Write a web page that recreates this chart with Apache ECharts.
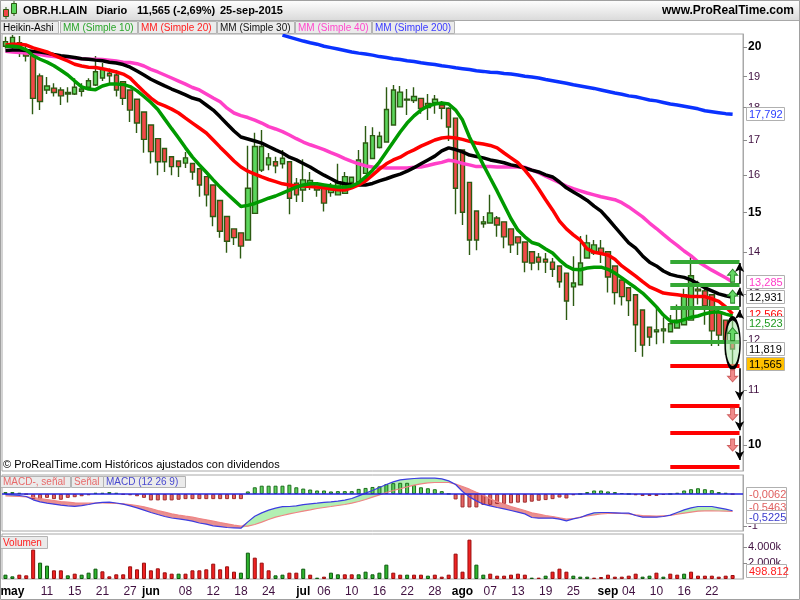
<!DOCTYPE html>
<html>
<head>
<meta charset="utf-8">
<title>OBR.H.LAIN Diario</title>
<script src="https://cdn.jsdelivr.net/npm/echarts@6/dist/echarts.min.js"></script>
<style>
  html, body { margin: 0; padding: 0; background: #fff; }
  #container { width: 800px; height: 600px; }
</style>
</head>
<body>
<div id="container"></div>
<script>
// sesiones 30-abr-2015 .. 25-sep-2015
var dates = ['30/04','04/05','05/05','06/05','07/05','08/05','11/05','12/05','13/05','14/05','15/05','18/05','19/05','20/05','21/05','22/05','25/05','26/05','27/05','28/05','29/05',
  '01/06','02/06','03/06','04/06','05/06','08/06','09/06','10/06','11/06','12/06','15/06','16/06','17/06','18/06','19/06','22/06','23/06','24/06','25/06','26/06','29/06','30/06',
  '01/07','02/07','03/07','06/07','07/07','08/07','09/07','10/07','13/07','14/07','15/07','16/07','17/07','20/07','21/07','22/07','23/07','24/07','27/07','28/07','29/07','30/07','31/07',
  '03/08','04/08','05/08','06/08','07/08','10/08','11/08','12/08','13/08','14/08','17/08','18/08','19/08','20/08','21/08','24/08','25/08','26/08','27/08','28/08','31/08',
  '01/09','02/09','03/09','04/09','07/09','08/09','09/09','10/09','11/09','14/09','15/09','16/09','17/09','18/09','21/09','22/09','23/09','24/09','25/09'];

var tickDates = ['04/05','11/05','15/05','21/05','27/05','01/06','08/06','12/06','18/06','24/06','01/07','06/07','10/07','16/07','22/07','28/07','03/08','07/08','13/08','19/08','25/08','01/09','04/09','10/09','16/09','22/09'];
var tickTexts = ['may','11','15','21','27','jun','08','12','18','24','jul','06','10','16','22','28','ago','07','13','19','25','sep','04','10','16','22'];
var priceTicks = [10, 11, 12, 13, 14, 15, 16, 17, 18, 19, 20];
var macdTicks = [-1];
var volumeTicks = [2000000, 4000000];

// Heikin-Ashi
var haOpen = [20.03,20.13,20.03,19.90,19.72,19.02,18.56,18.62,18.56,18.48,
  18.43,18.52,18.65,18.72,18.95,19.11,19.05,18.83,18.56,18.26,
  17.86,17.46,17.05,16.76,16.52,16.40,16.34,16.33,16.18,15.96,
  15.73,15.31,14.89,14.57,14.47,14.29,14.97,16.14,16.29,16.38,
  16.32,16.38,15.78,15.59,15.70,15.76,15.68,15.52,15.46,15.50,
  15.80,15.82,16.05,16.47,16.79,16.95,17.46,18.02,18.24,18.22,
  18.29,18.13,18.15,18.08,17.98,17.67,16.72,15.80,15.03,14.70,
  14.72,14.85,14.75,14.57,14.37,14.24,14.00,13.87,13.82,13.75,
  13.66,13.49,13.17,13.22,13.85,13.97,14.09,14.00,13.66,13.33,
  13.15,12.99,12.65,12.28,12.18,12.20,12.18,12.26,12.33,12.43,
  13.12,13.08,12.99,12.61,12.43,12.15];
var haClose = [20.19,20.34,20.15,19.69,18.29,18.19,18.69,18.48,18.37,18.43,
  18.65,18.59,18.86,19.16,19.25,19.02,18.56,18.29,17.92,17.52,
  17.03,16.67,16.38,16.38,16.24,16.24,16.49,16.09,15.73,15.46,
  14.89,14.51,14.26,14.35,14.14,15.64,16.82,16.82,16.49,16.26,
  16.48,15.37,15.46,15.87,15.85,15.59,15.24,15.64,15.82,15.96,
  15.94,16.43,16.92,17.14,17.12,17.94,18.56,18.49,18.26,18.35,
  17.97,18.00,18.26,17.98,17.40,15.64,15.00,14.29,14.29,14.75,
  14.98,14.67,14.37,14.17,14.22,13.75,13.73,13.75,13.75,13.58,
  13.29,12.85,13.26,13.73,14.22,14.17,13.97,13.40,13.04,12.95,
  12.86,12.33,11.90,12.07,12.22,12.24,12.35,12.43,12.99,13.43,
  13.08,12.74,12.20,12.11,11.97,11.819];
var haLow = [19.95,19.95,19.66,19.50,17.79,17.92,18.43,18.35,18.08,18.16,
  18.40,18.35,18.62,18.69,18.85,18.78,18.35,18.08,17.55,17.22,
  16.64,16.33,16.00,16.09,16.00,15.95,16.20,15.87,15.41,15.15,
  14.64,14.35,13.98,14.17,13.84,14.27,14.97,16.09,16.14,16.05,
  16.19,14.95,15.27,15.27,15.59,15.41,15.02,15.41,15.46,15.50,
  15.76,15.82,16.05,16.45,16.76,16.95,17.46,18.02,17.77,18.14,
  17.81,17.61,17.81,17.64,16.98,14.95,14.67,13.92,14.04,14.60,
  14.72,14.37,14.09,13.97,13.92,13.51,13.56,13.56,13.49,13.40,
  13.15,12.43,12.74,13.22,13.85,13.92,13.73,13.04,12.77,12.75,
  12.52,11.76,11.66,11.88,11.92,11.94,12.18,12.26,12.33,12.43,
  12.77,12.33,11.88,11.88,11.70,11.40];
var haHigh = [20.36,20.42,20.39,20.07,19.90,19.10,18.98,18.78,18.65,18.65,
  18.94,18.78,18.94,19.69,19.45,19.27,19.21,18.83,18.56,18.26,
  17.86,17.46,17.05,16.76,16.52,16.40,16.66,16.33,16.18,15.96,
  15.73,15.31,14.89,14.57,14.47,16.84,17.23,17.31,16.63,16.52,
  16.72,16.38,15.92,16.45,16.09,15.78,15.68,15.78,16.32,16.09,
  15.94,16.72,17.43,17.39,17.26,18.65,18.72,18.69,18.59,18.65,
  18.29,18.43,18.40,18.21,18.01,17.67,16.72,15.80,15.03,14.90,
  15.46,14.90,14.75,14.57,14.37,14.24,14.00,13.97,13.97,13.85,
  13.66,13.49,13.89,14.39,14.42,14.29,14.29,14.00,13.66,13.33,
  13.15,12.99,12.65,12.28,12.74,12.49,12.54,12.77,13.13,13.87,
  13.31,13.17,12.99,12.61,12.43,12.41];
var lastClose = 11.565;

// medias moviles simples
var mm10 = [20.03,20.03,20.00,19.90,19.70,19.58,19.48,19.36,19.21,19.05,
  18.85,18.66,18.59,18.57,18.69,18.75,18.75,18.74,18.67,18.53,
  18.35,18.16,17.94,17.64,17.35,17.07,16.78,16.51,16.29,16.08,
  15.87,15.67,15.49,15.32,15.15,15.18,15.23,15.30,15.37,15.43,
  15.51,15.59,15.67,15.73,15.76,15.76,15.73,15.70,15.67,15.67,
  15.70,15.79,15.95,16.14,16.37,16.66,16.95,17.25,17.52,17.74,
  17.92,18.05,18.11,18.14,18.11,17.92,17.61,17.10,16.69,16.29,
  15.92,15.56,15.19,14.83,14.54,14.37,14.23,14.18,14.07,13.97,
  13.80,13.66,13.58,13.57,13.61,13.63,13.63,13.58,13.49,13.38,
  13.26,13.15,13.03,12.88,12.72,12.54,12.41,12.39,12.44,12.49,
  12.52,12.57,12.60,12.61,12.56,12.523];
var mm20 = [20.07,20.10,20.10,20.07,19.97,19.90,19.83,19.72,19.62,19.52,
  19.41,19.35,19.31,19.30,19.26,19.21,19.15,19.08,18.95,18.72,
  18.50,18.30,18.14,18.05,17.95,17.83,17.67,17.52,17.37,17.22,
  17.01,16.80,16.60,16.40,16.23,16.11,16.03,15.95,15.88,15.82,
  15.76,15.73,15.70,15.70,15.69,15.67,15.65,15.62,15.60,15.59,
  15.65,15.73,15.84,16.00,16.17,16.32,16.43,16.51,16.63,16.72,
  16.83,16.92,17.01,17.07,17.09,17.07,17.03,16.97,16.92,16.89,
  16.85,16.78,16.63,16.49,16.35,16.14,15.90,15.62,15.33,15.06,
  14.77,14.57,14.42,14.29,14.07,13.99,13.96,13.92,13.82,13.66,
  13.54,13.42,13.29,13.17,13.10,13.03,13.01,12.99,12.97,12.95,
  12.95,12.95,12.90,12.84,12.72,12.566];
var mm30 = [19.88,19.90,19.90,19.88,19.85,19.83,19.79,19.74,19.70,19.67,
  19.64,19.60,19.58,19.55,19.53,19.48,19.45,19.40,19.31,19.18,
  19.05,18.91,18.80,18.69,18.59,18.50,18.40,18.30,18.24,18.08,
  17.92,17.71,17.49,17.28,17.10,17.04,16.98,16.92,16.82,16.72,
  16.63,16.51,16.43,16.33,16.23,16.11,16.00,15.90,15.80,15.76,
  15.73,15.73,15.73,15.77,15.84,15.90,15.97,16.03,16.11,16.21,
  16.32,16.43,16.54,16.69,16.78,16.73,16.66,16.57,16.53,16.49,
  16.43,16.39,16.35,16.29,16.25,16.20,16.14,16.09,16.01,15.95,
  15.81,15.65,15.54,15.43,15.31,15.16,15.03,14.83,14.62,14.42,
  14.22,14.09,13.90,13.75,13.66,13.54,13.46,13.42,13.39,13.33,
  13.24,13.15,13.08,13.01,12.97,12.931];
var mm40 = [19.85,19.83,19.81,19.79,19.77,19.74,19.70,19.67,19.65,19.64,
  19.62,19.60,19.58,19.58,19.57,19.55,19.52,19.48,19.47,19.43,
  19.35,19.24,19.15,19.05,18.95,18.85,18.75,18.64,18.56,18.43,
  18.30,18.18,17.98,17.83,17.75,17.69,17.61,17.52,17.41,17.34,
  17.26,17.16,17.05,16.95,16.87,16.80,16.73,16.64,16.56,16.47,
  16.39,16.32,16.26,16.23,16.22,16.20,16.20,16.20,16.20,16.22,
  16.23,16.27,16.32,16.36,16.42,16.39,16.33,16.29,16.24,16.24,
  16.24,16.23,16.23,16.23,16.23,16.22,16.14,16.07,15.97,15.88,
  15.79,15.70,15.63,15.57,15.51,15.46,15.41,15.37,15.33,15.25,
  15.14,15.01,14.88,14.72,14.58,14.43,14.29,14.16,14.02,13.90,
  13.76,13.66,13.56,13.47,13.38,13.285];
var mm200 = [null,null,null,null,null,null,null,null,null,null,
  null,null,null,null,null,null,null,null,null,null,
  null,null,null,null,null,null,null,null,null,null,
  null,null,null,null,null,null,null,null,null,null,
  20.42,20.35,20.28,20.21,20.15,20.10,20.03,19.98,19.93,19.88,
  19.83,19.79,19.76,19.72,19.67,19.64,19.60,19.57,19.53,19.50,
  19.46,19.43,19.40,19.36,19.33,19.29,19.26,19.23,19.19,19.17,
  19.14,19.13,19.10,19.08,19.05,19.01,18.98,18.95,18.90,18.86,
  18.82,18.78,18.73,18.69,18.65,18.61,18.56,18.51,18.46,18.42,
  18.37,18.34,18.29,18.24,18.21,18.16,18.11,18.08,18.04,18.00,
  17.96,17.90,17.87,17.84,17.81,17.792];

// MACD (12 26 9)
var macd = [-0.016,-0.026,-0.047,-0.078,-0.182,-0.245,-0.286,-0.318,-0.349,-0.370,
  -0.385,-0.365,-0.328,-0.286,-0.260,-0.255,-0.281,-0.318,-0.370,-0.432,
  -0.505,-0.578,-0.641,-0.703,-0.750,-0.776,-0.807,-0.849,-0.906,-0.943,
  -0.995,-1.021,-1.047,-1.057,-1.068,-0.870,-0.693,-0.589,-0.505,-0.443,
  -0.396,-0.391,-0.370,-0.333,-0.307,-0.286,-0.260,-0.245,-0.224,-0.193,
  -0.141,-0.057,0.026,0.109,0.203,0.297,0.380,0.443,0.464,0.484,
  0.495,0.495,0.495,0.474,0.411,0.297,0.078,-0.089,-0.214,-0.318,
  -0.370,-0.422,-0.464,-0.516,-0.568,-0.620,-0.734,-0.755,-0.755,-0.755,
  -0.786,-0.839,-0.776,-0.734,-0.651,-0.589,-0.578,-0.578,-0.589,-0.599,
  -0.599,-0.672,-0.724,-0.724,-0.724,-0.703,-0.661,-0.578,-0.495,-0.432,
  -0.391,-0.391,-0.391,-0.432,-0.474,-0.5225];
var signal = [-0.057,-0.068,-0.078,-0.089,-0.109,-0.141,-0.172,-0.203,-0.234,-0.255,
  -0.276,-0.286,-0.286,-0.281,-0.281,-0.286,-0.297,-0.307,-0.328,-0.359,
  -0.401,-0.453,-0.516,-0.568,-0.620,-0.661,-0.693,-0.724,-0.766,-0.807,
  -0.849,-0.891,-0.932,-0.974,-1.005,-1.005,-0.953,-0.880,-0.797,-0.724,
  -0.672,-0.620,-0.578,-0.536,-0.495,-0.453,-0.422,-0.391,-0.359,-0.328,
  -0.286,-0.234,-0.172,-0.099,-0.026,0.047,0.110,0.165,0.224,0.276,
  0.318,0.349,0.359,0.359,0.359,0.307,0.234,0.151,0.057,-0.036,
  -0.151,-0.245,-0.318,-0.391,-0.453,-0.516,-0.589,-0.630,-0.672,-0.703,
  -0.745,-0.786,-0.766,-0.724,-0.682,-0.651,-0.620,-0.609,-0.599,-0.609,
  -0.620,-0.651,-0.672,-0.682,-0.693,-0.682,-0.672,-0.630,-0.599,-0.568,
  -0.536,-0.526,-0.526,-0.531,-0.536,-0.5463];
var hist = [0.06,0.06,0.04,-0.01,-0.16,-0.16,-0.12,-0.16,-0.18,-0.12,
  -0.10,-0.07,-0.04,0.04,0.04,0.06,0.04,-0.02,-0.04,-0.07,
  -0.12,-0.20,-0.20,-0.20,-0.20,-0.18,-0.16,-0.16,-0.16,-0.16,
  -0.16,-0.16,-0.16,-0.16,-0.16,0.08,0.21,0.26,0.26,0.26,
  0.26,0.29,0.21,0.17,0.14,0.11,0.11,0.08,0.09,0.09,
  0.09,0.16,0.19,0.22,0.24,0.31,0.34,0.35,0.35,0.28,
  0.21,0.18,0.15,0.09,0.01,-0.17,-0.42,-0.42,-0.42,-0.34,
  -0.34,-0.31,-0.31,-0.29,-0.27,-0.27,-0.24,-0.21,-0.19,-0.16,
  -0.11,-0.14,-0.04,0.00,0.06,0.11,0.11,0.08,0.06,0.03,
  0.00,-0.04,-0.06,-0.06,-0.06,-0.03,0.00,0.04,0.11,0.15,
  0.18,0.15,0.12,0.06,0.04,-0.0062];

// volumen (acciones) y sentido de la sesion (1 sube, -1 baja)
var volume = [542000,333000,542000,458000,3670000,2043000,1668000,1084000,1084000,458000,
  667000,542000,792000,1292000,959000,333000,584000,584000,1584000,1209000,
  2043000,1084000,1334000,834000,667000,667000,667000,1084000,1084000,1209000,
  1918000,1209000,1584000,917000,792000,3294000,2668000,2043000,1084000,458000,
  542000,792000,792000,1292000,542000,167000,292000,792000,584000,584000,
  584000,584000,917000,584000,792000,1793000,792000,542000,542000,542000,
  542000,417000,542000,292000,542000,3170000,917000,4920000,1793000,542000,
  667000,417000,417000,542000,667000,542000,167000,167000,417000,917000,
  1292000,917000,417000,292000,292000,167000,250000,542000,292000,292000,
  417000,667000,292000,417000,792000,292000,667000,542000,667000,917000,
  417000,417000,417000,292000,417000,498812];
var volDir = [1,1,-1,-1,-1,1,1,-1,-1,1,
  -1,1,1,1,-1,-1,-1,-1,-1,-1,
  -1,-1,-1,-1,-1,1,-1,-1,-1,-1,
  -1,-1,-1,-1,1,1,-1,-1,-1,1,
  1,-1,-1,1,-1,1,-1,1,1,-1,
  -1,1,1,1,1,1,-1,-1,1,-1,
  -1,1,-1,-1,-1,-1,-1,-1,1,1,
  -1,-1,-1,-1,-1,-1,1,-1,1,-1,
  -1,-1,1,1,1,-1,-1,-1,-1,-1,
  -1,-1,1,1,-1,1,-1,-1,1,-1,
  -1,-1,-1,-1,-1,-1];

// dibujos del usuario sobre el grafico
var greenLevels = [13.75, 13.22, 12.70, 11.97];
var redLevels = [11.47, 10.70, 10.21, 9.63];
var upMoves = [[13.24, 13.73], [12.72, 13.15], [12.48, 12.65]];
var downMoves = [[11.43, 10.82], [10.68, 10.26], [10.16, 9.74]];
var upMarks = [13.43, 12.95, 12.13];
var downMarks = [11.28, 10.55, 10.0];
var circledValue = 11.94;

var FONT = '"Liberation Sans", Arial, Helvetica, sans-serif';
var xCats = dates.concat(['']);
var lastIdx = dates.length - 1;

function dots(n) {
  return String(Math.round(n)).replace(/\B(?=(\d{3})+(?!\d))/g, '.');
}

var chart = echarts.init(document.getElementById('container'));

var candles = dates.map(function (d, i) { return [haOpen[i], haClose[i], haLow[i], haHigh[i]]; });
var bandBase = macd.map(function (m, i) { return Math.min(m, signal[i]); });
var bandUp = macd.map(function (m, i) { return Math.max(0, m - signal[i]); });
var bandDown = macd.map(function (m, i) { return Math.max(0, signal[i] - m); });

var levelLines = [];
greenLevels.forEach(function (v) {
  levelLines.push([{ coord: [96, v], lineStyle: { color: '#34a834', width: 4, type: 'solid' } }, { coord: [106, v] }]);
});
redLevels.forEach(function (v) {
  levelLines.push([{ coord: [96, v], lineStyle: { color: '#ff0000', width: 4, type: 'solid' } }, { coord: [106, v] }]);
});
upMoves.concat(downMoves).forEach(function (m) {
  levelLines.push([{ coord: [106, m[0]], symbol: 'none', lineStyle: { color: '#000', width: 1.6, type: 'solid' } },
                   { coord: [106, m[1]], symbol: 'arrow', symbolSize: [7, 9] }]);
});

var marks = [{
  coord: [lastIdx, circledValue], symbol: 'circle', symbolSize: [15, 50],
  itemStyle: { color: 'rgba(170,232,170,0.55)', borderColor: '#000', borderWidth: 2.5 }
}];
upMarks.forEach(function (v) {
  marks.push({ coord: [lastIdx, v], symbol: 'path://M5,0 L10,5 L7,5 L7,11 L3,11 L3,5 L0,5 Z', symbolSize: [10, 13],
    itemStyle: { color: '#66d866', borderColor: '#2a8a2a', borderWidth: 1 } });
});
downMarks.forEach(function (v) {
  marks.push({ coord: [lastIdx, v], symbol: 'path://M3,0 L7,0 L7,6 L10,6 L5,11 L0,6 L3,6 Z', symbolSize: [10, 12],
    itemStyle: { color: '#f08a8a', borderColor: '#d06060', borderWidth: 1 } });
});

function maSeries(name, data, color) {
  return {
    name: name, type: 'line', xAxisIndex: 0, yAxisIndex: 0, data: data,
    symbol: 'none', showSymbol: false, silent: true, z: 3,
    lineStyle: { color: color, width: 3.5 }
  };
}

var option = {
  animation: false,
  textStyle: { fontFamily: FONT },
  grid: [
    { left: 2, right: 57, top: 34, height: 437, show: true, borderColor: '#a8a8a8', borderWidth: 1, outerBoundsMode: 'none' },
    { left: 2, right: 57, top: 475, height: 56, show: true, borderColor: '#a8a8a8', borderWidth: 1, outerBoundsMode: 'none' },
    { left: 2, right: 57, top: 534, height: 45, show: true, borderColor: '#a8a8a8', borderWidth: 1, outerBoundsMode: 'none' }
  ],
  xAxis: [0, 1, 2].map(function (g) {
    return {
      type: 'category', gridIndex: g, data: xCats, boundaryGap: true,
      axisLine: { show: false }, axisTick: { show: false }, splitLine: { show: false },
      axisLabel: g < 2 ? { show: false } : {
        margin: 7,
        interval: function (idx, val) { return tickDates.indexOf(val) !== -1; },
        formatter: function (val) {
          var t = tickTexts[tickDates.indexOf(val)];
          return isNaN(+t) ? '{m|' + t + '}' : '{d|' + t + '}';
        },
        rich: {
          m: { fontSize: 12, fontWeight: 'bold', color: '#000', fontFamily: FONT },
          d: { fontSize: 12, color: '#401040', fontFamily: FONT }
        }
      }
    };
  }),
  yAxis: [
    {
      type: 'log', logBase: 10, gridIndex: 0, position: 'right', min: 9.557, max: 20.46,
      axisLine: { show: true, lineStyle: { color: '#a8a8a8' } },
      axisTick: { show: true, customValues: priceTicks, length: 4, lineStyle: { color: '#8c8c8c' } },
      splitLine: { show: false },
      axisLabel: {
        customValues: priceTicks, margin: 5,
        formatter: function (v) {
          var r = Math.round(v);
          return r % 5 === 0 ? '{b|' + r + '}' : '{n|' + r + '}';
        },
        rich: {
          b: { fontSize: 12, fontWeight: 'bold', color: '#000', fontFamily: FONT },
          n: { fontSize: 11, color: '#401040', fontFamily: FONT }
        }
      }
    },
    {
      type: 'value', gridIndex: 1, position: 'right', min: -1.156, max: 0.594,
      axisLine: { show: true, lineStyle: { color: '#a8a8a8' } },
      axisTick: { show: true, customValues: macdTicks, length: 4, lineStyle: { color: '#8c8c8c' } },
      splitLine: { show: false },
      axisLabel: { customValues: macdTicks, margin: 5, fontSize: 11, color: '#401040', formatter: function (v) { return String(v); } }
    },
    {
      type: 'value', gridIndex: 2, position: 'right', min: 0, max: 5625000,
      axisLine: { show: true, lineStyle: { color: '#a8a8a8' } },
      axisTick: { show: true, customValues: volumeTicks, length: 4, lineStyle: { color: '#8c8c8c' } },
      splitLine: { show: false },
      axisLabel: { customValues: volumeTicks, margin: 5, fontSize: 11, color: '#401040', formatter: function (v) { return dots(v / 1000) + 'k'; } }
    }
  ],
  series: [
    {
      name: 'Heikin-Ashi', type: 'candlestick', xAxisIndex: 0, yAxisIndex: 0, data: candles,
      barWidth: 5, silent: true, z: 2,
      itemStyle: {
        color: '#5cd65c', color0: '#f24848',
        borderColor: '#2c5a12', borderColor0: '#2c5a12', borderColorDoji: '#2c5a12', borderWidth: 1.4
      }
    },
    maSeries('MM (Simple 40)', mm40, '#ff40c8'),
    maSeries('MM (Simple 30)', mm30, '#000000'),
    maSeries('MM (Simple 20)', mm20, '#ff0000'),
    maSeries('MM (Simple 10)', mm10, '#009a00'),
    maSeries('MM (Simple 200)', mm200, '#0a32ff'),
    {
      name: 'dibujos', type: 'line', xAxisIndex: 0, yAxisIndex: 0, data: [], silent: true, z: 6,
      markLine: { silent: true, animation: false, symbol: 'none', label: { show: false }, emphasis: { disabled: true },
        lineStyle: { type: 'solid' }, data: levelLines },
      markPoint: { silent: true, animation: false, label: { show: false }, data: marks }
    },
    {
      name: 'base', type: 'line', xAxisIndex: 1, yAxisIndex: 1, data: bandBase, stack: 'banda', stackStrategy: 'all',
      symbol: 'none', silent: true, lineStyle: { opacity: 0 }, z: 1
    },
    {
      name: 'sobre', type: 'line', xAxisIndex: 1, yAxisIndex: 1, data: bandUp, stack: 'banda', stackStrategy: 'all',
      symbol: 'none', silent: true, lineStyle: { opacity: 0 }, areaStyle: { color: '#b2efb2', opacity: 1 }, z: 1
    },
    {
      name: 'bajo', type: 'line', xAxisIndex: 1, yAxisIndex: 1, data: bandDown, stack: 'banda', stackStrategy: 'all',
      symbol: 'none', silent: true, lineStyle: { opacity: 0 }, areaStyle: { color: '#e99090', opacity: 1 }, z: 1
    },
    {
      name: 'MACD-, señal', type: 'bar', xAxisIndex: 1, yAxisIndex: 1, barWidth: 4, silent: true, z: 2,
      data: hist.map(function (v) {
        return { value: v, itemStyle: v >= 0 ? { color: '#5ccf5c', borderColor: '#1e6e1e', borderWidth: 1 }
                                             : { color: '#e36464', borderColor: '#a03030', borderWidth: 1 } };
      }),
      markLine: { silent: true, symbol: 'none', label: { show: false }, animation: false,
        lineStyle: { color: '#2424dd', width: 1.5, type: 'solid' }, data: [{ yAxis: 0 }] }
    },
    {
      name: 'Señal', type: 'line', xAxisIndex: 1, yAxisIndex: 1, data: signal, symbol: 'none', silent: true, z: 3,
      lineStyle: { color: '#ef8484', width: 1.2 }
    },
    {
      name: 'MACD', type: 'line', xAxisIndex: 1, yAxisIndex: 1, data: macd, symbol: 'none', silent: true, z: 3,
      lineStyle: { color: '#3c3ce0', width: 1.2 }
    },
    {
      name: 'Volumen', type: 'bar', xAxisIndex: 2, yAxisIndex: 2, barWidth: 4, silent: true, z: 2,
      data: volume.map(function (v, i) {
        return { value: v, itemStyle: volDir[i] > 0 ? { color: '#2fb52f', borderColor: '#0e5a0e', borderWidth: 1 }
                                                   : { color: '#f02222', borderColor: '#9a0e0e', borderWidth: 1 } };
      })
    }
  ]
};

chart.setOption(option);

// elementos fijos: cabecera, leyendas, pie
var G = [];
G.push({ type: 'rect', silent: true, z: 100, shape: { x: 0.5, y: 0.5, width: 799, height: 20 },
  style: { fill: new echarts.graphic.LinearGradient(0, 0, 0, 1, [{ offset: 0, color: '#ffffff' }, { offset: 1, color: '#d9d9d9' }]),
    stroke: '#a8a8a8', lineWidth: 1 } });
G.push({ type: 'line', silent: true, z: 101, shape: { x1: 6, y1: 7, x2: 6, y2: 19 }, style: { stroke: '#2c5a12', lineWidth: 1 } });
G.push({ type: 'rect', silent: true, z: 101, shape: { x: 3.5, y: 9.5, width: 5, height: 7 }, style: { fill: '#f04848', stroke: '#2c5a12', lineWidth: 1 } });
G.push({ type: 'line', silent: true, z: 101, shape: { x1: 14, y1: 1, x2: 14, y2: 16 }, style: { stroke: '#2c5a12', lineWidth: 1 } });
G.push({ type: 'rect', silent: true, z: 101, shape: { x: 11.5, y: 3.5, width: 5, height: 10 }, style: { fill: '#5cd65c', stroke: '#2c5a12', lineWidth: 1 } });
[['OBR.H.LAIN', 23], ['Diario', 96], ['11,565 (-2,69%)', 137], ['25-sep-2015', 220]].forEach(function (t) {
  G.push({ type: 'text', silent: true, z: 101, style: { text: t[0], x: t[1], y: 11, fill: '#000', font: 'bold 11px ' + FONT, verticalAlign: 'middle' } });
});
G.push({ type: 'text', silent: true, z: 101, style: { text: 'www.ProRealTime.com', x: 794, y: 11, fill: '#000', font: 'bold 12px ' + FONT, align: 'right', verticalAlign: 'middle' } });

function legendRow(items, y, h) {
  items.forEach(function (it) {
    G.push({ type: 'rect', silent: true, z: 100, shape: { x: it[2] + 0.5, y: y + 0.5, width: it[3], height: h },
      style: { fill: '#ebebeb', stroke: '#b4b4b4', lineWidth: 1 } });
    G.push({ type: 'text', silent: true, z: 101, style: { text: it[0], x: it[2] + 3, y: y + 1 + h / 2, fill: it[1], font: '10px ' + FONT, verticalAlign: 'middle' } });
  });
}
legendRow([['Heikin-Ashi', '#000', 0, 58], ['MM (Simple 10)', '#2aa52a', 60, 77], ['MM (Simple 20)', '#ff2020', 138, 78],
  ['MM (Simple 30)', '#111', 217, 77], ['MM (Simple 40)', '#ff48cc', 295, 76], ['MM (Simple 200)', '#3a3aff', 372, 82]], 21, 12);
legendRow([['MACD-, señal', '#e86a6a', 0, 70], ['Señal', '#e86a6a', 71, 32], ['MACD (12 26 9)', '#4848d0', 103, 82]], 476, 11);
legendRow([['Volumen', '#ff2020', 0, 47]], 536, 12);
G.push({ type: 'text', silent: true, z: 101, style: { text: '© ProRealTime.com Históricos ajustados con dividendos', x: 3, y: 465, fill: '#000', font: '11px ' + FONT, verticalAlign: 'middle' } });

// etiquetas de ultimo valor sobre los ejes
var tags = [
  { axis: 0, v: mm200[lastIdx], color: '#2a3cff', d: 3 },
  { axis: 0, v: mm40[lastIdx], color: '#ff3cc8', d: 3 },
  { axis: 0, v: mm30[lastIdx], color: '#000', d: 3 },
  { axis: 0, v: mm20[lastIdx], color: '#ff0000', d: 3 },
  { axis: 0, v: mm10[lastIdx], color: '#1f9a1f', d: 3, dy: 7 },
  { axis: 0, v: haClose[lastIdx], color: '#000', d: 3 },
  { axis: 0, v: lastClose, color: '#000', d: 3, bg: '#ffc000', dy: 2.5 },
  { axis: 1, v: hist[lastIdx], color: '#e06060', d: 4 },
  { axis: 1, v: signal[lastIdx], color: '#e06060', d: 4, dy: -4 },
  { axis: 1, v: macd[lastIdx], color: '#3a3acc', d: 4, dy: 6 },
  { axis: 2, v: volume[lastIdx], color: '#ff2020', vol: true, dy: -4 }
];
tags.forEach(function (t, k) {
  var y = Math.round(chart.convertToPixel({ yAxisIndex: t.axis }, t.v) + (t.dy || 0));
  var txt = t.vol ? dots(t.v) : t.v.toFixed(t.d).replace('.', ',');
  var w = t.axis === 0 ? 38 : 40;
  G.push({ type: 'rect', silent: true, z: 110, z2: k * 2, shape: { x: 746.5, y: y - 6.5, width: w, height: 13 },
    style: { fill: t.bg || '#ffffff', stroke: '#b0b0b0', lineWidth: 1 } });
  G.push({ type: 'text', silent: true, z: 110, z2: k * 2 + 1, style: { text: txt, x: 749, y: y + 0.5, fill: t.color, font: '11px ' + FONT, verticalAlign: 'middle' } });
});
G.push({ type: 'rect', silent: true, z: 120, shape: { x: 0.5, y: 0.5, width: 799, height: 599 }, style: { fill: 'none', stroke: '#a0a0a0', lineWidth: 1 } });

chart.setOption({ graphic: G });
</script>
</body>
</html>
